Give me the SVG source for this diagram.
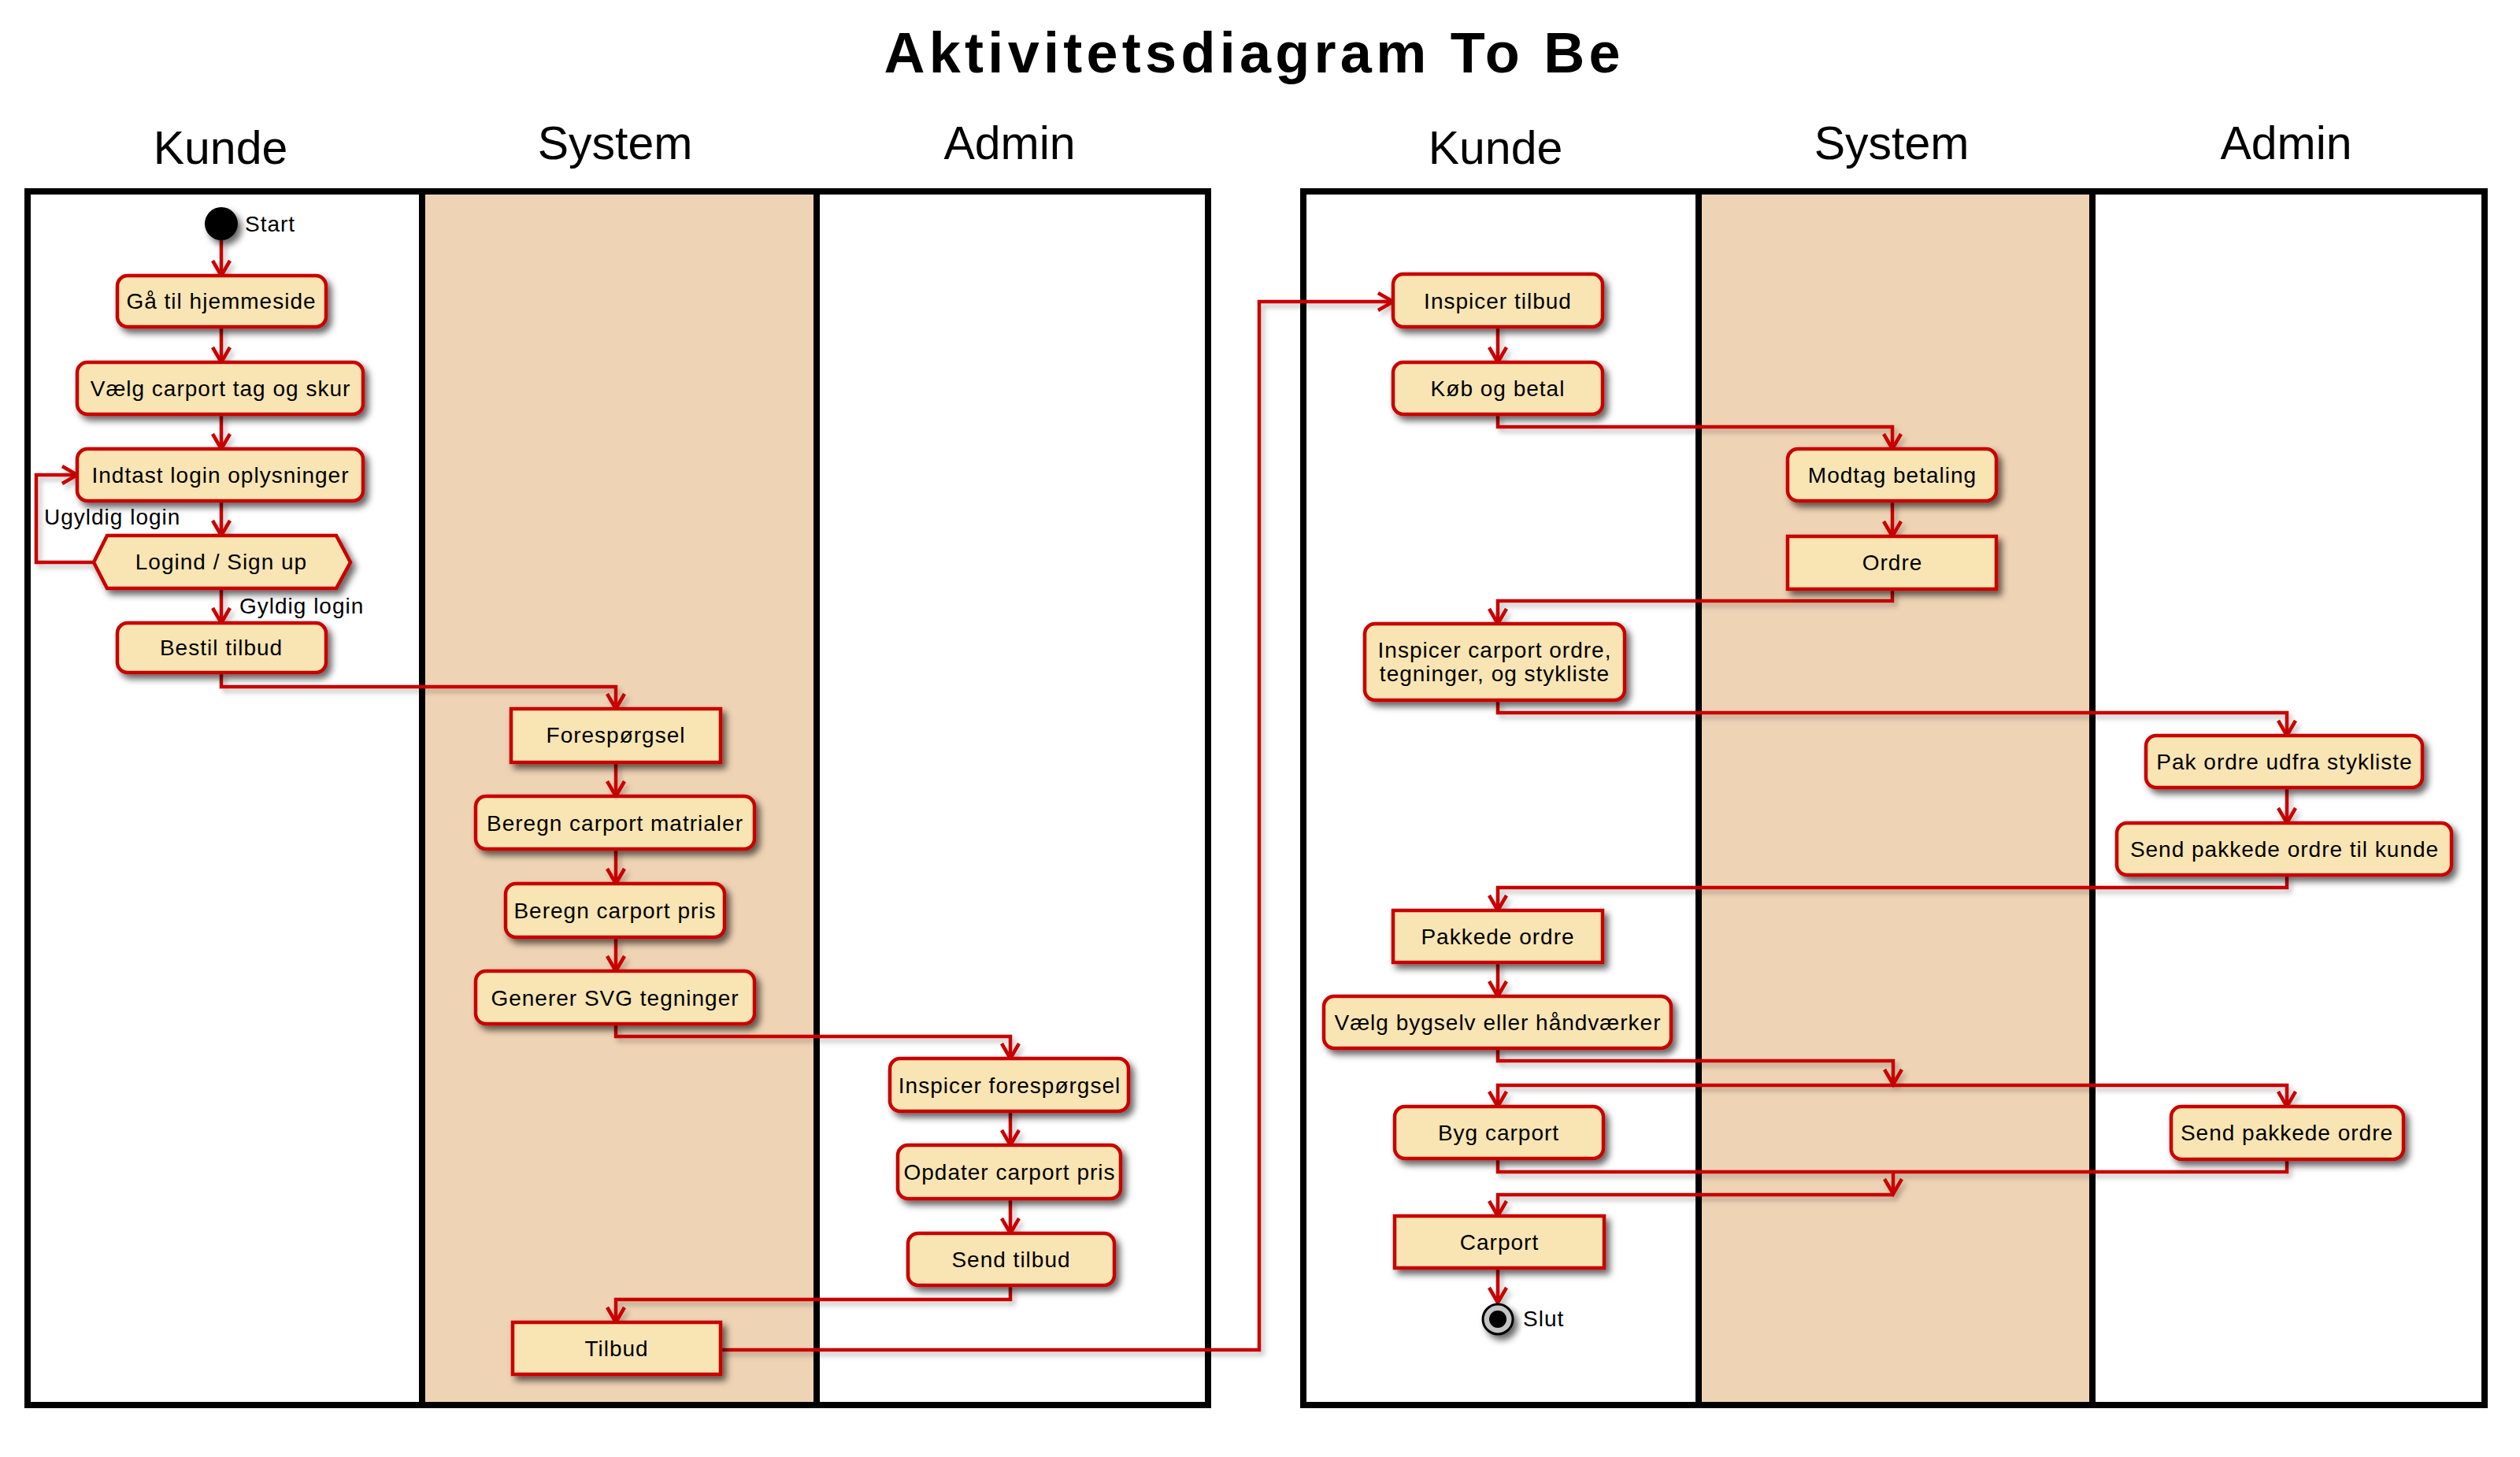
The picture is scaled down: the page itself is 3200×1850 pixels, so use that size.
<svg xmlns="http://www.w3.org/2000/svg" width="3200" height="1850" viewBox="0 0 3200 1850">
<style>
.frame{fill:none;stroke:#000;stroke-width:8}
.div{stroke:#000;stroke-width:8}
.sys{fill:#EFD3B5}
.act{fill:#F8E5B3;stroke:#C80000;stroke-width:4.5}
.obj{fill:#F8E5B3;stroke:#C80000;stroke-width:4.5}
.t{font-family:"Liberation Sans",Arial,sans-serif;font-size:28px;letter-spacing:1px;fill:#000;text-anchor:middle}
.lbl{font-family:"Liberation Sans",Arial,sans-serif;font-size:28px;letter-spacing:1px;fill:#000}
.hdr{font-family:"Liberation Sans",Arial,sans-serif;font-size:59px;fill:#000;text-anchor:middle}
.title{font-family:"Liberation Sans",Arial,sans-serif;font-size:72px;font-weight:bold;fill:#000;text-anchor:middle}
.c{fill:none;stroke:#C80000;stroke-width:4.5;stroke-linejoin:miter}
.a{fill:none;stroke:#C80000;stroke-width:4.5;stroke-linejoin:miter;marker-end:url(#ah)}
</style>
<defs>
<filter id="sh" x="-20%" y="-30%" width="150%" height="180%">
<feDropShadow dx="5" dy="6" stdDeviation="4" flood-color="#000" flood-opacity="0.6"/>
</filter>
<filter id="shl" x="-5%" y="-5%" width="110%" height="110%">
<feDropShadow dx="4" dy="5" stdDeviation="3" flood-color="#000" flood-opacity="0.25"/>
</filter>
<marker id="ah" viewBox="-22 -14 26 28" markerWidth="26" markerHeight="28" markerUnits="userSpaceOnUse" orient="auto" refX="0" refY="0">
<path d="M-19,-11 L0,0 L-19,11" fill="none" stroke="#C80000" stroke-width="4.5" stroke-linejoin="miter"/>
</marker>
</defs>
<rect x="0" y="0" width="3200" height="1850" fill="#fff"/>

<text class="title" x="1590" y="92" textLength="935" lengthAdjust="spacing">Aktivitetsdiagram To Be</text>

<g id="swimlanes-left">
<rect class="sys" x="536" y="243" width="501" height="1541"/>
<text class="hdr" x="280" y="208">Kunde</text>
<text class="hdr" x="781" y="202">System</text>
<text class="hdr" x="1282" y="202">Admin</text>
<line class="div" x1="536" y1="243" x2="536" y2="1784"/>
<line class="div" x1="1037" y1="243" x2="1037" y2="1784"/>
<rect class="frame" x="35" y="243" width="1499" height="1541"/>
</g>
<g id="swimlanes-right">
<rect class="sys" x="2157" y="243" width="500" height="1541"/>
<text class="hdr" x="1899" y="208">Kunde</text>
<text class="hdr" x="2402" y="202">System</text>
<text class="hdr" x="2903" y="202">Admin</text>
<line class="div" x1="2157" y1="243" x2="2157" y2="1784"/>
<line class="div" x1="2657" y1="243" x2="2657" y2="1784"/>
<rect class="frame" x="1655" y="243" width="1500" height="1541"/>
</g>

<g id="connectors" filter="url(#shl)">
<path class="a" d="M281,305 V350"/>
<path class="a" d="M281,415 V460"/>
<path class="a" d="M281,526 V570"/>
<path class="a" d="M281,636 V680"/>
<path class="a" d="M281,747 V791"/>
<path class="a" d="M119,714 H46 V603 H98"/>
<path class="a" d="M281,854 V872 H782 V900"/>
<path class="a" d="M782,968 V1011"/>
<path class="a" d="M782,1078 V1122"/>
<path class="a" d="M782,1190 V1233"/>
<path class="a" d="M782,1300 V1316 H1283 V1344"/>
<path class="a" d="M1283,1411 V1454"/>
<path class="a" d="M1283,1522 V1566"/>
<path class="a" d="M1283,1632 V1650 H782 V1679"/>
<path class="a" d="M915,1714 H1599 V383 H1769"/>
<path class="a" d="M1902,415 V460"/>
<path class="a" d="M1902,526 V542 H2403 V570"/>
<path class="a" d="M2403,636 V681"/>
<path class="a" d="M2403,748 V763 H1902 V792"/>
<path class="a" d="M1902,889 V905 H2904 V934"/>
<path class="a" d="M2904,1000 V1045"/>
<path class="a" d="M2904,1111 V1127 H1902 V1156"/>
<path class="a" d="M1902,1222 V1265"/>
<path class="a" d="M1902,1331 V1347 H2404 V1377"/>
<path class="a" d="M2404,1378 H1902 V1405"/>
<path class="a" d="M2404,1378 H2904 V1405"/>
<path class="c" d="M1902,1471 V1488 H2904 V1472"/>
<path class="a" d="M2404,1488 V1516"/>
<path class="a" d="M2404,1517 H1902 V1544"/>
<path class="a" d="M1902,1610 V1654"/>
</g>

<g id="n-start" filter="url(#sh)">
<circle cx="281" cy="284" r="21" fill="#000"/>
</g>
<text class="lbl" x="311" y="294">Start</text>

<g id="n-ga" filter="url(#sh)"><rect class="act" x="149" y="350" width="265" height="65" rx="13"/></g>
<text class="t" x="281" y="392">Gå til hjemmeside</text>

<g id="n-vaelg" filter="url(#sh)"><rect class="act" x="98" y="460" width="363" height="66" rx="13"/></g>
<text class="t" x="280" y="503">Vælg carport tag og skur</text>

<g id="n-login" filter="url(#sh)"><rect class="act" x="98" y="570" width="363" height="66" rx="13"/></g>
<text class="t" x="280" y="613">Indtast login oplysninger</text>

<g id="n-decision" filter="url(#sh)"><polygon class="act" points="119,714 136,680 427,680 445,714 427,747 136,747"/></g>
<text class="t" x="281" y="723">Logind / Sign up</text>
<text class="lbl" x="56" y="666">Ugyldig login</text>
<text class="lbl" x="304" y="779">Gyldig login</text>

<g id="n-bestil" filter="url(#sh)"><rect class="act" x="149" y="791" width="265" height="63" rx="13"/></g>
<text class="t" x="281" y="832">Bestil tilbud</text>

<g id="n-foresp" filter="url(#sh)"><rect class="obj" x="649" y="900" width="266" height="68"/></g>
<text class="t" x="782" y="943">Forespørgsel</text>

<g id="n-matr" filter="url(#sh)"><rect class="act" x="604" y="1011" width="354" height="67" rx="13"/></g>
<text class="t" x="781" y="1055">Beregn carport matrialer</text>

<g id="n-pris" filter="url(#sh)"><rect class="act" x="642" y="1122" width="278" height="68" rx="13"/></g>
<text class="t" x="781" y="1166">Beregn carport pris</text>

<g id="n-svg" filter="url(#sh)"><rect class="act" x="604" y="1233" width="354" height="67" rx="13"/></g>
<text class="t" x="781" y="1277">Generer SVG tegninger</text>

<g id="n-insp-foresp" filter="url(#sh)"><rect class="act" x="1130" y="1344" width="303" height="67" rx="13"/></g>
<text class="t" x="1282" y="1388">Inspicer forespørgsel</text>

<g id="n-opdater" filter="url(#sh)"><rect class="act" x="1140" y="1454" width="283" height="68" rx="13"/></g>
<text class="t" x="1282" y="1498">Opdater carport pris</text>

<g id="n-send-tilbud" filter="url(#sh)"><rect class="act" x="1153" y="1566" width="262" height="66" rx="13"/></g>
<text class="t" x="1284" y="1609">Send tilbud</text>

<g id="n-tilbud" filter="url(#sh)"><rect class="obj" x="651" y="1679" width="264" height="66"/></g>
<text class="t" x="783" y="1722">Tilbud</text>

<g id="n-insp-tilbud" filter="url(#sh)"><rect class="act" x="1769" y="348" width="266" height="67" rx="13"/></g>
<text class="t" x="1902" y="392">Inspicer tilbud</text>

<g id="n-koeb" filter="url(#sh)"><rect class="act" x="1769" y="460" width="266" height="66" rx="13"/></g>
<text class="t" x="1902" y="503">Køb og betal</text>

<g id="n-modtag" filter="url(#sh)"><rect class="act" x="2270" y="570" width="265" height="66" rx="13"/></g>
<text class="t" x="2403" y="613">Modtag betaling</text>

<g id="n-ordre" filter="url(#sh)"><rect class="obj" x="2270" y="681" width="265" height="67"/></g>
<text class="t" x="2403" y="724">Ordre</text>

<g id="n-insp-ordre" filter="url(#sh)"><rect class="act" x="1733" y="792" width="330" height="97" rx="13"/></g>
<text class="t" x="1898" y="835">Inspicer carport ordre,</text>
<text class="t" x="1898" y="865">tegninger, og stykliste</text>

<g id="n-pak" filter="url(#sh)"><rect class="act" x="2725" y="934" width="351" height="66" rx="13"/></g>
<text class="t" x="2901" y="977">Pak ordre udfra stykliste</text>

<g id="n-send-kunde" filter="url(#sh)"><rect class="act" x="2688" y="1045" width="425" height="66" rx="13"/></g>
<text class="t" x="2901" y="1088">Send pakkede ordre til kunde</text>

<g id="n-pakkede" filter="url(#sh)"><rect class="obj" x="1769" y="1156" width="266" height="66"/></g>
<text class="t" x="1902" y="1199">Pakkede ordre</text>

<g id="n-vaelg-byg" filter="url(#sh)"><rect class="act" x="1681" y="1265" width="441" height="66" rx="13"/></g>
<text class="t" x="1902" y="1308">Vælg bygselv eller håndværker</text>

<g id="n-byg" filter="url(#sh)"><rect class="act" x="1771" y="1405" width="265" height="66" rx="13"/></g>
<text class="t" x="1903" y="1448">Byg carport</text>

<g id="n-send-pakkede" filter="url(#sh)"><rect class="act" x="2757" y="1405" width="295" height="67" rx="13"/></g>
<text class="t" x="2904" y="1448">Send pakkede ordre</text>

<g id="n-carport" filter="url(#sh)"><rect class="obj" x="1771" y="1544" width="266" height="66"/></g>
<text class="t" x="1904" y="1587">Carport</text>

<g id="n-end" filter="url(#sh)">
<circle cx="1902" cy="1675" r="19" fill="#C4C4C4" stroke="#000" stroke-width="3"/>
<circle cx="1902" cy="1675" r="11" fill="#000"/>
</g>
<text class="lbl" x="1934" y="1684">Slut</text>
</svg>
